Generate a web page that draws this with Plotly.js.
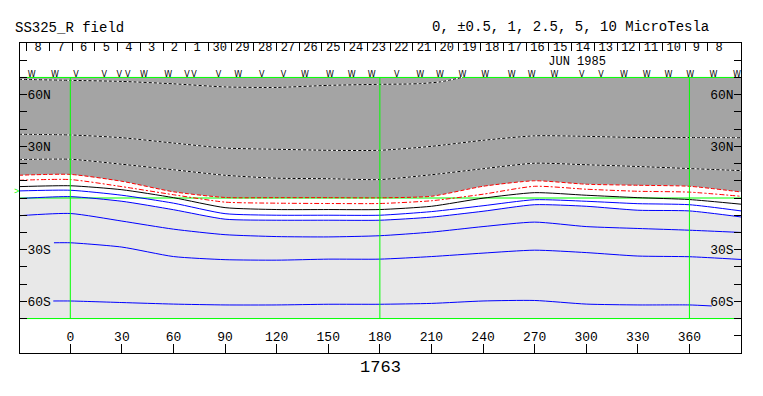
<!DOCTYPE html>
<html>
<head>
<meta charset="utf-8">
<script src="https://cdn.plot.ly/plotly-3.0.1.min.js"></script>
<style>html,body{margin:0;padding:0;background:#fff;}#chart{width:763px;height:396px;}</style>
</head>
<body>
<div id="chart"></div>
<script>
// ---- data (Carrington longitude, latitude in degrees) ----
const lon = [-30, 0, 30, 60, 90, 120, 150, 180, 210, 240, 270, 300, 330, 360, 390];
const lonP10 = [-30, 0, 30, 60, 90, 120, 150, 180, 197, 203, 215, 227.8];
const latP10 = [68.9, 68.3, 67.7, 66.3, 64.5, 64.2, 65.4, 66.0, 66.2, 66.4, 67.4, 70.0];
const latP5 = [37.0, 36.6, 35.0, 31.9, 29.0, 28.3, 27.7, 27.7, 30.0, 33.5, 36.1, 35.8, 35.1, 35.1, 35.0];
const latP2_5 = [22.3, 22.5, 19.6, 16.4, 13.2, 11.5, 11.2, 10.7, 13.5, 17.0, 20.2, 19.3, 18.3, 17.1, 15.9];
const latP1 = [13.2, 13.7, 9.7, 3.6, 0.3, 0.2, 0.2, 0.1, 1.0, 6.8, 10.0, 8.0, 7.4, 6.8, 3.5];
const latP0_5 = [10.3, 10.7, 6.6, 1.9, -2.4, -3.0, -3.2, -3.2, -1.6, 2.2, 6.8, 5.1, 3.9, 3.4, 1.0];
const lat0 = [6.6, 7.1, 4.8, 0.2, -5.6, -6.7, -6.7, -6.7, -4.8, -0.1, 3.1, 1.6, 0.2, -0.9, -3.6];
const latN0_5 = [4.1, 4.5, 1.6, -3.0, -9.1, -10.0, -10.0, -10.0, -7.9, -4.5, -1.0, -1.9, -3.3, -3.9, -7.5];
const latN1 = [-0.3, 0.8, -1.9, -6.8, -12.3, -12.9, -12.9, -12.9, -11.1, -7.7, -3.9, -4.8, -7.1, -7.5, -11.0];
const latN2_5 = [-10.3, -9.0, -13.4, -18.1, -21.3, -22.4, -22.6, -21.9, -19.8, -16.6, -14.0, -16.6, -17.7, -18.7, -20.0];
const lonN5 = [-9.5, 0, 30, 60, 90, 120, 150, 180, 210, 240, 270, 300, 330, 360, 390];
const latN5 = [-26.0, -26.0, -28.5, -34.0, -35.8, -36.1, -35.5, -35.5, -34.0, -32.0, -30.3, -31.7, -33.7, -34.1, -35.7];
const lonN10 = [-9.9, 0, 30, 60, 90, 120, 150, 180, 210, 240, 270, 300, 330, 360, 373];
const latN10 = [-59.8, -59.8, -60.7, -61.6, -62.1, -62.1, -61.7, -61.7, -61.2, -59.8, -59.5, -61.6, -62.1, -62.1, -62.7];

// reference lines
const gridLon = [0, 180, 360];
const gridLat = [70, 0, -70];
const edgeLon = [-30, 390];

// axis ticks
const lonTicks = [0, 30, 60, 90, 120, 150, 180, 210, 240, 270, 300, 330, 360];
const latTickVals = [-80, -70, -60, -50, -40, -30, -20, -10, 0, 10, 20, 30, 40, 50, 60, 70, 80];
const latTickText = ['', '', '60S', '', '', '30S', '', '', '', '', '', '30N', '', '', '60N', '', ''];

// date axis (day boundaries in longitude, day labels)
const dayBoundLon = [-25.3, -12.1, 1.1, 14.3, 27.5, 40.7, 53.9, 67.1, 80.3, 93.5, 106.7, 119.9, 133.1, 146.3, 159.5, 172.7, 185.9, 199.1, 212.3, 225.5, 238.7, 251.9, 265.1, 278.3, 291.5, 304.7, 317.9, 331.1, 344.3, 357.5, 370.7, 383.9];
const dayLabels = ['8', '7', '6', '5', '4', '3', '2', '1', '30', '29', '28', '27', '26', '25', '24', '23', '22', '21', '20', '19', '18', '17', '16', '15', '14', '13', '12', '11', '10', '9', '8'];
const monthLabel = 'JUN 1985';
const monthLon = 294.7;

// observation markers
const markLon = [-22.4, -8.9, 3.3, 19.8, 28.5, 33.4, 42.9, 57.0, 67.9, 71.9, 86.1, 97.7, 111.3, 123.9, 136.5, 151.0, 163.7, 175.3, 189.8, 203.4, 215.0, 228.0, 241.2, 256.7, 268.3, 281.5, 297.4, 308.6, 322.0, 335.2, 347.8, 360.4, 374.0, 387.6];
const markSym = ['W', 'W', 'V', 'V', 'V', 'V', 'W', 'W', 'V', 'V', 'V', 'W', 'V', 'V', 'W', 'W', 'W', 'W', 'V', 'W', 'W', 'W', 'W', 'W', 'W', 'W', 'V', 'V', 'W', 'W', 'W', 'W', 'W', 'W'];

// ---- styles ----
const DARK = '#a4a4a4', LIGHT = '#e8e8e8', GREEN = '#00ff00', BLUE = '#0000ff', RED = '#ff0000';
const FONT = 'Liberation Mono, DejaVu Sans Mono, monospace';
const SM = {shape: 'spline', smoothing: 0.6};

function line(x, y, color, dash, width) {
  return {type: 'scatter', mode: 'lines', x: x, y: y, hoverinfo: 'skip', showlegend: false,
    line: Object.assign({color: color, width: width || 1, dash: dash || 'solid'}, SM)};
}

const traces = [];
// dark gray (> +1) region, from +1 contour up to 70N
traces.push({type: 'scatter', mode: 'lines', x: edgeLon, y: [gridLat[0], gridLat[0]], line: {width: 0}, hoverinfo: 'skip', showlegend: false});
traces.push({type: 'scatter', mode: 'lines', x: lon, y: latP1, fill: 'tonexty', fillcolor: DARK, line: Object.assign({width: 0}, SM), hoverinfo: 'skip', showlegend: false});
// light gray (< -1) region, from -1 contour down to 70S
traces.push({type: 'scatter', mode: 'lines', x: edgeLon, y: [gridLat[2], gridLat[2]], line: {width: 0}, hoverinfo: 'skip', showlegend: false});
traces.push({type: 'scatter', mode: 'lines', x: lon, y: latN1, fill: 'tonexty', fillcolor: LIGHT, line: Object.assign({width: 0}, SM), hoverinfo: 'skip', showlegend: false});
// green horizontal lines
gridLat.forEach(function (la) {
  traces.push({type: 'scatter', mode: 'lines', x: edgeLon, y: [la, la], line: {color: GREEN, width: 1}, hoverinfo: 'skip', showlegend: false});
});
// positive contours (black/white dashes)
[[lonP10, latP10], [lon, latP5], [lon, latP2_5]].forEach(function (c) {
  traces.push(line(c[0], c[1], '#ffffff', 'solid'));
  traces.push(line(c[0], c[1], '#000000', '3px,2px'));
});
traces.push(line(lon, latP1, RED, '4px,2px'));
traces.push(line(lon, latP0_5, RED, '5px,2px,2px,2px'));
traces.push(line(lon, lat0, '#000000', 'solid'));
traces.push(line(lon, latN0_5, BLUE));
traces.push(line(lon, latN1, BLUE));
traces.push(line(lon, latN2_5, BLUE));
traces.push(line(lonN5, latN5, BLUE));
traces.push(line(lonN10, latN10, BLUE));
// green vertical lines
gridLon.forEach(function (lo) {
  traces.push({type: 'scatter', mode: 'lines', x: [lo, lo], y: [gridLat[0], gridLat[2]], line: {color: GREEN, width: 1}, hoverinfo: 'skip', showlegend: false});
});
// day labels, month label, markers on the top axis pair
const dayCenters = dayLabels.map(function (d, i) { return (dayBoundLon[i] + dayBoundLon[i + 1]) / 2; });
traces.push({type: 'scatter', mode: 'text', xaxis: 'x2', yaxis: 'y2', x: dayCenters, y: dayCenters.map(function () { return 87.3; }),
  text: dayLabels, textposition: 'middle center', textfont: {family: FONT, size: 12, color: '#000'}, hoverinfo: 'skip', showlegend: false, cliponaxis: false});
traces.push({type: 'scatter', mode: 'text', xaxis: 'x2', yaxis: 'y2', x: [monthLon], y: [79.0],
  text: [monthLabel], textposition: 'middle center', textfont: {family: FONT, size: 12, color: '#000'}, hoverinfo: 'skip', showlegend: false, cliponaxis: false});
traces.push({type: 'scatter', mode: 'text', xaxis: 'x2', yaxis: 'y2', x: markLon, y: markLon.map(function () { return 71.2; }),
  text: markSym, textposition: 'middle center', textfont: {family: 'DejaVu Sans', size: 8, color: '#000'}, hoverinfo: 'skip', showlegend: false, cliponaxis: false});

const xRange = [-29.25, 390];
const yRange = [-90, 90];

const layout = {
  width: 763, height: 396,
  margin: {l: 20, r: 22, t: 43, b: 43, pad: 0},
  paper_bgcolor: '#ffffff', plot_bgcolor: '#ffffff',
  font: {family: FONT, size: 13, color: '#000'},
  showlegend: false,
  hovermode: false,
  title: {text: 'SS325_R field', x: 15 / 763, xanchor: 'left', xref: 'container', y: 1 - 27 / 396, yanchor: 'middle', yref: 'container',
    font: {family: FONT, size: 14, color: '#000'}},
  xaxis: {range: xRange, tickmode: 'array', tickvals: lonTicks, ticktext: lonTicks.map(String),
    ticks: 'inside', ticklen: 9, tickcolor: '#000', tickwidth: 1, ticklabelposition: 'inside',
    tickfont: {family: FONT, size: 13, color: '#000'},
    showline: true, linecolor: '#000', linewidth: 1, mirror: true, showgrid: false, zeroline: false,
    title: {text: '1763', font: {family: FONT, size: 17, color: '#000'}, standoff: 16}},
  xaxis2: {range: xRange, overlaying: 'x', side: 'top', anchor: 'y2', tickmode: 'array', tickvals: dayBoundLon,
    ticks: 'inside', ticklen: 8, tickcolor: '#000', showticklabels: false, showline: false, showgrid: false, zeroline: false},
  yaxis: {range: yRange, tickmode: 'array', tickvals: latTickVals, ticktext: latTickText,
    ticks: 'inside', ticklen: 7, tickcolor: '#000', ticklabelposition: 'inside',
    tickfont: {family: FONT, size: 13, color: '#000'},
    showline: true, linecolor: '#000', linewidth: 1, mirror: true, showgrid: false, zeroline: false},
  yaxis2: {range: yRange, overlaying: 'y', side: 'right', anchor: 'x2', tickmode: 'array', tickvals: latTickVals, ticktext: latTickText,
    ticks: 'inside', ticklen: 7, tickcolor: '#000', ticklabelposition: 'inside',
    tickfont: {family: FONT, size: 13, color: '#000'},
    showline: false, showgrid: false, zeroline: false},
  annotations: [
    {text: '0, ±0.5, 1, 2.5, 5, 10 MicroTesla', xref: 'paper', yref: 'paper', x: (711 - 20) / 721, y: (353 - 27) / 310,
      xanchor: 'right', yanchor: 'middle', showarrow: false, font: {family: FONT, size: 14, color: '#000'}},
    {text: '>', xref: 'paper', yref: 'y', x: -4 / 721, y: 3.5, xanchor: 'center', yanchor: 'middle', showarrow: false,
      font: {family: FONT, size: 9, color: GREEN}}
  ]
};

Plotly.newPlot('chart', traces, layout, {displayModeBar: false, staticPlot: true});
</script>
</body>
</html>
